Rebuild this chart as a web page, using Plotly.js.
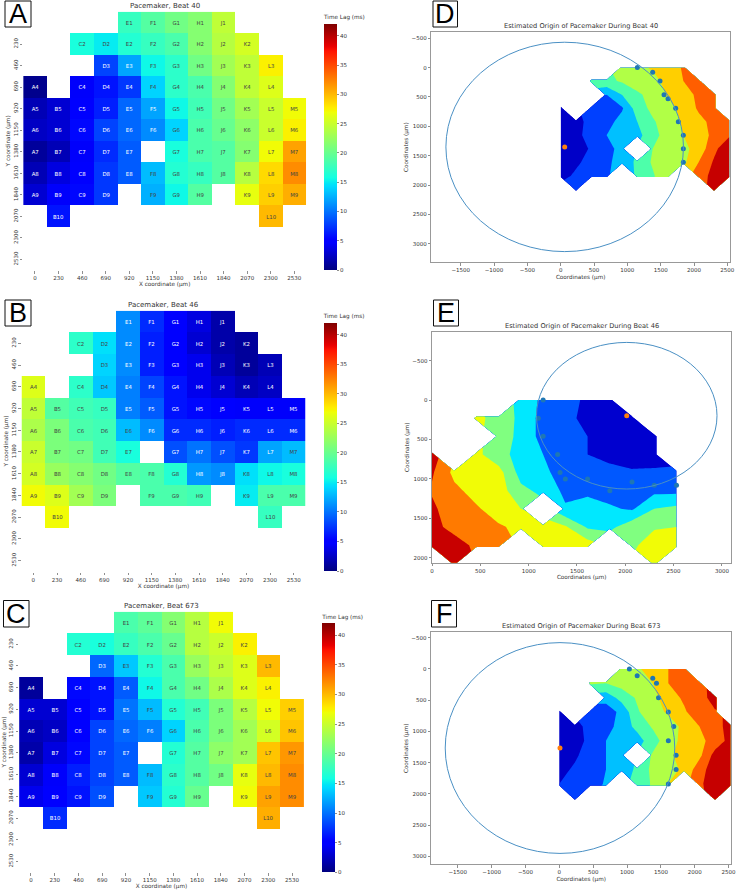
<!DOCTYPE html>
<html>
<head>
<meta charset="utf-8">
<script src="https://cdn.plot.ly/plotly-3.0.1.min.js"></script>
<style>html,body{margin:0;padding:0;background:#fff}</style>
</head>
<body>
<div id="chart" style="width:737px;height:891px"></div>
<script>
const W = 737, H = 891;
const n = null;
const columnLetters = ['A','B','C','D','E','F','G','H','J','K','L','M'];
const coords = [0,230,460,690,920,1150,1380,1610,1840,2070,2300,2530];
const rowNumbers = [1,2,3,4,5,6,7,8,9,10,11,12];

const beat40 = [
 [n,n,n,n,17.5,19,20.5,21.5,24.5,n,n,n],
 [n,n,16,15,16.5,17.5,18.5,21.5,24,25.5,n,n],
 [n,n,n,8,12,15.5,17,20.5,23,24.5,27.5,n],
 [0.5,n,4.5,6,7.5,14,17,18.5,21.5,24.5,26,n],
 [2,3,5,6.5,9.5,12,15.5,18,20.5,23,25,27],
 [2.5,3,5.5,8,9.5,11,14,18.5,20,22,25,27.5],
 [1,2,4.5,7,9,n,16,18.5,19,21.5,27,31],
 [2,3.5,5,7.5,9,13,16.5,17.5,19,24,28.5,32],
 [3,4.5,5.5,7.5,n,12.5,15.5,19,n,26.5,29,30.5],
 [n,6,n,n,n,n,n,n,n,n,30,n],
 [n,n,n,n,n,n,n,n,n,n,n,n],
 [n,n,n,n,n,n,n,n,n,n,n,n]];
const beat46 = [
 [n,n,n,n,11,7,5,3.5,1.5,n,n,n],
 [n,n,17,14.5,11,6.5,5,3,1.5,1,n,n],
 [n,n,n,14,11,6.5,5,4,2,1,2,n],
 [26,n,17,13.5,10.5,8,6,4,3,2,2.5,n],
 [24.5,19,18,17.5,10.5,9,6,5.5,5,4.5,4.5,4.5],
 [23.5,21,18.5,18,13,11,7,7,6.5,7,7,7],
 [25,21,20.5,18,16,n,8.5,10,8.5,7.5,12,13],
 [25.5,22.5,21.5,20.5,19,18.5,16.5,11.5,11,14.5,15.5,16],
 [27,26,23,21,n,18.5,18.5,18,n,15,18.5,18.5],
 [n,27,n,n,n,n,n,n,n,n,17.5,n],
 [n,n,n,n,n,n,n,n,n,n,n,n],
 [n,n,n,n,n,n,n,n,n,n,n,n]];
const beat673 = [
 [n,n,n,n,18.5,19.5,21.5,24,27,n,n,n],
 [n,n,16.5,16,17.5,18.5,20,24,25,27.5,n,n],
 [n,n,n,9.5,13.5,16.5,18.5,22.5,24.5,26,30,n],
 [1,n,5.5,6,9,15.5,18.5,20.5,23.5,26,27.5,n],
 [3,3,5,6,10,13,16.5,18,21,24,27,29],
 [2,2.5,5,8,9.5,10.5,14,18.5,21,23,25.5,29.5],
 [1.5,3.5,5.5,8,9,n,16.5,19,22,23,29.5,31.5],
 [3,4.5,6.5,8,9,13,17,19,20.5,26.5,30,32],
 [4,5,6,8.5,n,13.5,16.5,20,n,27,31,32],
 [n,7,n,n,n,n,n,n,n,n,30.5,n],
 [n,n,n,n,n,n,n,n,n,n,n,n],
 [n,n,n,n,n,n,n,n,n,n,n,n]];

const beatNames = ['40','46','673'];
const beatGrids = [beat40, beat46, beat673];
const zTop = 42;
const colorbarTicks = [0,5,10,15,20,25,30,35,40];

const edgeX40 = [1150,1380,1490,1550,1610,1725,1765,1840,1840,1840];
const edgeY40 = [0,80,230,460,530,690,920,1150,1380,1610];
const edgeX46 = [1150,1100,1150,1300,1325,1380,1610,1840,2070,2300,2530];
const edgeY46 = [0,230,460,690,920,1000,1000,1150,1040,1080,1080];
const edgeX673 = [1035,1150,1380,1435,1465,1610,1690,1610,1725,1725,1610];
const edgeY673 = [0,110,150,230,460,690,920,1150,1380,1610,1840];
const originX = [60,2015,10];
const originY = [1350,198,1265];
const radiusX = [1782,934,1695];
const radiusY = [1782,930,1686];
const contourTop = [32,28,32];
const contourStep = 4;

const tick40 = [-1500,-1000,-500,0,500,1000,1500,2000,2500];
const tickY40 = [-500,0,500,1000,1500,2000,2500,3000];
const tick46 = [0,500,1000,1500,2000,2500,3000];
const tickY46 = [-500,0,500,1000,1500,2000];

const bandColors8 = ['#0000c8','#0040ff','#00c0ff','#4dffaa','#b1ff46','#ffcf00','#ff5e00','#c60000'];
const bandColors7 = ['#0000cf','#0058ff','#00e8ff','#80ff80','#f1fc06','#ff7a00','#c80000'];
const jet = [[0,'#00007f'],[.11,'#0000ff'],[.125,'#0000ff'],[.34,'#00dbff'],[.35,'#00e5f7'],[.375,'#14ffe2'],
 [.64,'#eeff08'],[.65,'#f7f500'],[.66,'#ffec00'],[.89,'#ff1300'],[.91,'#e80000'],[1,'#7f0000']];

// layout boxes in pixels: [left,right,top,bottom]
const heatBox = [[23.2,306.1,11.7,270.1],[21.5,305.5,310.7,571.5],[19.1,303.9,611.7,872.3]];
const barBox = [[324,337,12,270],[323.7,337,311,571],[322.3,335.7,611.7,872.3]];
const originBox = [[431.3,730,32.3,262],[432,731.3,331.7,562.7],[431,731.3,632.3,864.3]];
const originRangeX = [[-1941,2540],[0,3097],[-1895,2540]];
const originRangeY = [[3309,-601],[2063,-868],[3125,-586]];
const letterBox = [[5,31,1,27,'A'],[5,31,300,326,'B'],[3.5,29,600.5,627,'C'],[433,457.5,1,27,'D'],[433.5,458.5,300,326,'E'],[431.5,456.5,600.5,627,'F']];

const txt = '#333333', fam = 'DejaVu Sans, sans-serif';
const dx = b => [b[0]/W, b[1]/W];
const dy = b => [1-b[3]/H, 1-b[2]/H];
// one flat colour per contour band: plotly samples band k at (k+1)/(bands+1)
const steps = cols => { const m=cols.length+1,o=[]; cols.forEach((c,i)=>{o.push([i===0?0:(i+.5)/m,c]);o.push([i===cols.length-1?1:(i+1.5)/m,c]);}); return o; };

const data = [], layout = {width:W,height:H,margin:{l:0,r:0,t:0,b:0},paper_bgcolor:'#fff',plot_bgcolor:'#fff',
  showlegend:false,font:{family:fam,size:5.6,color:txt},annotations:[],shapes:[]};

beatGrids.forEach((z,i) => {
  const labels = rowNumbers.map((r,ri) => columnLetters.map((c,ci) => z[ri][ci]===null ? '' : c + r));
  const ax = i*2+1, xk = ax===1?'xaxis':'xaxis'+ax, yk = ax===1?'yaxis':'yaxis'+ax, xr = ax===1?'x':'x'+ax, yr = ax===1?'y':'y'+ax;
  const b = heatBox[i], cb = barBox[i];
  data.push({type:'heatmap',x:coords,y:coords,z:z,text:labels,texttemplate:'%{text}',textfont:{size:5.4,family:fam},
    xaxis:xr,yaxis:yr,zmin:0,zmax:zTop,colorscale:jet,hoverongaps:false,
    colorbar:{x:cb[0]/W,xanchor:'left',xpad:0,ypad:0,y:1-cb[3]/H,yanchor:'bottom',lenmode:'pixels',len:cb[3]-cb[2],
      thicknessmode:'pixels',thickness:cb[1]-cb[0],outlinewidth:0,tickvals:colorbarTicks,ticks:'outside',ticklen:2.5,tickwidth:.6,
      tickfont:{size:5.5,color:txt},title:{text:'Time Lag (ms)',side:'top',font:{size:5.7,color:txt}}}});
  layout[xk] = {domain:dx(b),anchor:yr,range:[-115,2645],tickvals:coords,ticks:'outside',ticklen:2.5,tickwidth:.6,showgrid:false,zeroline:false,
    showline:false,tickangle:0,tickfont:{size:5.5,color:txt},title:{text:'X coordinate (µm)',font:{size:5.7,color:txt},standoff:1}};
  layout[yk] = {domain:dy(b),anchor:xr,range:[2645,-115],tickvals:coords.slice(1),ticks:'outside',ticklen:2.5,tickwidth:.6,showgrid:false,zeroline:false,
    showline:false,tickangle:-90,tickfont:{size:5.5,color:txt},title:{text:'Y coordinate (µm)',font:{size:5.7,color:txt},standoff:1}};
  layout.annotations.push({xref:'paper',yref:'paper',x:(b[0]+b[1])/2/W,y:1-(b[2]-6)/H,text:'Pacemaker, Beat '+beatNames[i],showarrow:false,
    font:{size:7,color:txt},xanchor:'center',yanchor:'middle'});

  // origin panel
  const ax2 = i*2+2, xk2='xaxis'+ax2, yk2='yaxis'+ax2, xr2='x'+ax2, yr2='y'+ax2;
  const o = originBox[i];
  const cols = i===1?bandColors7:bandColors8;
  data.push({type:'contour',x:coords,y:coords,z:z,xaxis:xr2,yaxis:yr2,connectgaps:false,autocontour:false,
    contours:{start:0,end:contourTop[i],size:contourStep,coloring:'fill',showlines:false},line:{width:0,smoothing:0},
    zmin:0,zmax:contourTop[i],colorscale:steps(cols),showscale:false});
  const ex=[edgeX40,edgeX46,edgeX673][i], ey=[edgeY40,edgeY46,edgeY673][i];
  data.push({type:'scatter',mode:'markers',x:ex,y:ey,xaxis:xr2,yaxis:yr2,marker:{color:'#1f77b4',size:5},cliponaxis:true});
  data.push({type:'scatter',mode:'markers',x:[originX[i]],y:[originY[i]],xaxis:xr2,yaxis:yr2,marker:{color:'#ff7f0e',size:5}});
  layout.shapes.push({type:'circle',xref:xr2,yref:yr2,x0:originX[i]-radiusX[i],x1:originX[i]+radiusX[i],y0:originY[i]-radiusY[i],y1:originY[i]+radiusY[i],
    line:{color:'#4a90c4',width:1}});
  layout[xk2] = {domain:dx(o),anchor:yr2,range:originRangeX[i],tickvals:i===1?tick46:tick40,ticks:'outside',ticklen:2.5,tickwidth:.6,showgrid:false,zeroline:false,
    showline:true,mirror:true,linecolor:'#999',linewidth:1,tickfont:{size:5.5,color:txt},title:{text:'Coordinates (µm)',font:{size:5.7,color:txt},standoff:2}};
  layout[yk2] = {domain:dy(o),anchor:xr2,range:originRangeY[i],tickvals:i===1?tickY46:tickY40,ticks:'outside',ticklen:2.5,tickwidth:.6,showgrid:false,zeroline:false,
    showline:true,mirror:true,linecolor:'#999',linewidth:1,tickfont:{size:5.5,color:txt},title:{text:'Coordinates (µm)',font:{size:5.7,color:txt},standoff:2}};
  layout.annotations.push({xref:'paper',yref:'paper',x:(o[0]+o[1])/2/W,y:1-(o[2]-6)/H,text:'Estimated Origin of Pacemaker During Beat '+beatNames[i],showarrow:false,
    font:{size:6.6,color:txt},xanchor:'center',yanchor:'middle'});
});
letterBox.forEach(l => {
  layout.shapes.push({type:'rect',xref:'paper',yref:'paper',x0:l[0]/W,x1:l[1]/W,y0:1-l[3]/H,y1:1-l[2]/H,line:{color:'#111',width:1},fillcolor:'#fff',layer:'above'});
  layout.annotations.push({xref:'paper',yref:'paper',x:(l[0]+l[1])/2/W,y:1-(l[2]+l[3])/2/H,text:l[4],showarrow:false,font:{size:27,color:'#000',family:'Liberation Sans, sans-serif'},xanchor:'center',yanchor:'middle'});
});
Plotly.newPlot('chart',data,layout,{displayModeBar:false,staticPlot:true});
</script>
</body>
</html>
